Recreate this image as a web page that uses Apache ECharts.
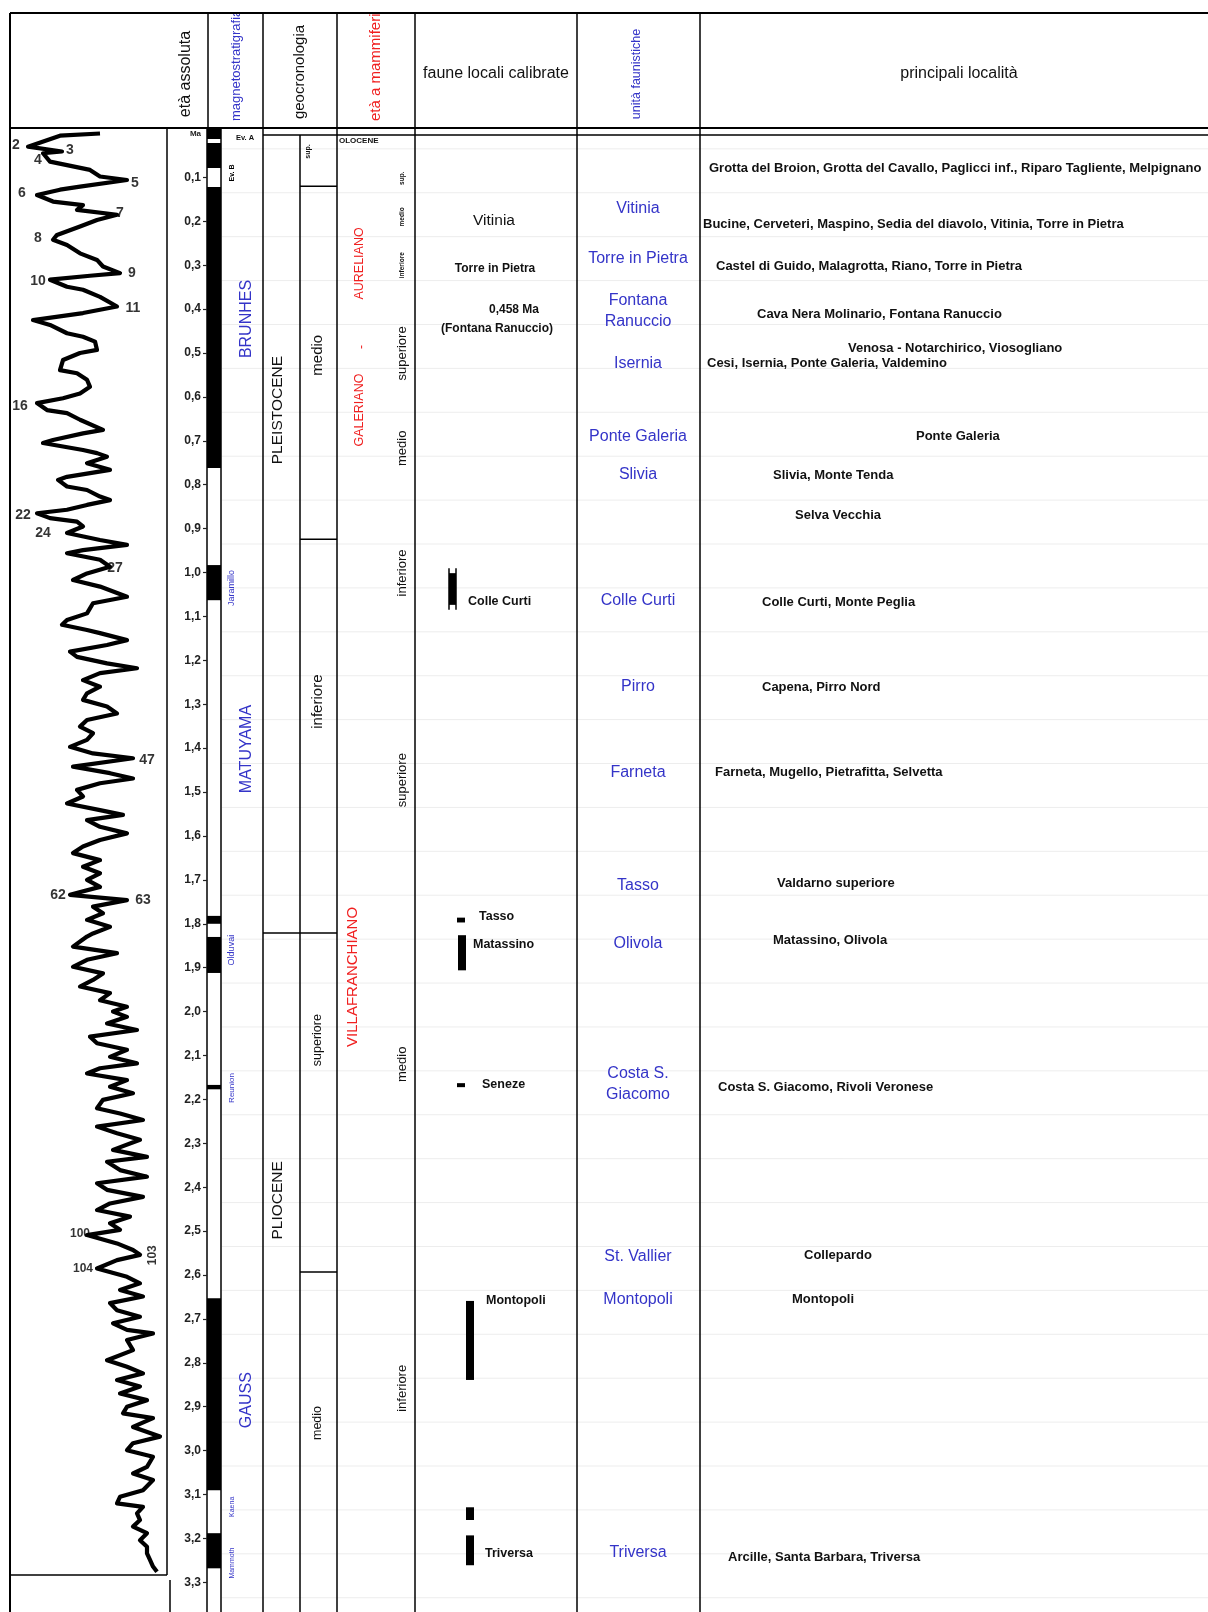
<!DOCTYPE html>
<html>
<head>
<meta charset="utf-8">
<title>Biocronologia</title>
<script src="https://cdn.jsdelivr.net/npm/echarts@6.0.0/dist/echarts.min.js"></script>
<style>
html,body{margin:0;padding:0;background:#fff;}
#chart{width:1208px;height:1612px;}
</style>
</head>
<body>
<div id="chart"></div>
<script>
// ================= DATA =================
const ageTicks = [0,0.1,0.2,0.3,0.4,0.5,0.6,0.7,0.8,0.9,1.0,1.1,1.2,1.3,1.4,1.5,1.6,1.7,1.8,1.9,2.0,2.1,2.2,2.3,2.4,2.5,2.6,2.7,2.8,2.9,3.0,3.1,3.2,3.3];
const ageTickLabels = ['Ma','0,1','0,2','0,3','0,4','0,5','0,6','0,7','0,8','0,9','1,0','1,1','1,2','1,3','1,4','1,5','1,6','1,7','1,8','1,9','2,0','2,1','2,2','2,3','2,4','2,5','2,6','2,7','2,8','2,9','3,0','3,1','3,2','3,3'];

// oxygen-isotope curve: [age Ma, relative value]
const isoCurve = [
[0.000,100],[0.005,60],[0.030,28],[0.041,62],[0.045,43],[0.064,50],[0.083,90],[0.098,100],[0.106,127],[0.121,80],
[0.128,60],[0.140,37],[0.155,53],[0.163,83],[0.174,77],[0.185,117],[0.197,97],[0.212,80],[0.231,57],[0.242,53],
[0.254,67],[0.273,80],[0.288,97],[0.303,103],[0.318,120],[0.324,90],[0.333,50],[0.349,67],[0.356,83],[0.372,100],
[0.394,117],[0.409,83],[0.425,33],[0.436,50],[0.455,67],[0.463,83],[0.474,95],[0.493,97],[0.500,80],[0.516,63],
[0.539,60],[0.546,77],[0.561,87],[0.577,90],[0.592,80],[0.603,63],[0.614,37],[0.630,47],[0.637,67],[0.652,80],
[0.675,103],[0.683,83],[0.698,53],[0.705,43],[0.713,63],[0.721,83],[0.728,97],[0.736,107],[0.751,87],[0.766,110],
[0.782,67],[0.789,58],[0.804,67],[0.812,87],[0.827,100],[0.835,110],[0.846,87],[0.857,67],[0.865,37],[0.876,50],
[0.884,77],[0.895,83],[0.910,67],[0.926,100],[0.937,127],[0.949,83],[0.956,67],[0.971,100],[0.987,110],[1.002,87],
[1.017,73],[1.032,100],[1.055,127],[1.070,93],[1.093,87],[1.108,67],[1.119,62],[1.131,87],[1.138,100],[1.154,127],
[1.165,107],[1.180,70],[1.192,77],[1.207,107],[1.218,137],[1.229,100],[1.245,83],[1.260,100],[1.275,87],[1.290,83],
[1.305,107],[1.321,117],[1.336,87],[1.351,80],[1.366,93],[1.381,87],[1.397,70],[1.412,93],[1.423,133],[1.442,73],
[1.457,110],[1.469,133],[1.480,100],[1.495,77],[1.510,83],[1.526,67],[1.541,100],[1.552,123],[1.564,87],[1.579,100],
[1.594,127],[1.609,100],[1.624,83],[1.639,73],[1.655,100],[1.670,83],[1.685,100],[1.700,87],[1.716,100],[1.734,70],
[1.746,127],[1.761,93],[1.776,103],[1.791,87],[1.807,110],[1.822,93],[1.829,87],[1.852,73],[1.867,117],[1.882,87],
[1.898,73],[1.913,103],[1.928,93],[1.943,80],[1.958,110],[1.974,100],[1.989,127],[2.000,113],[2.012,127],[2.027,107],
[2.042,137],[2.057,90],[2.072,97],[2.087,127],[2.103,110],[2.118,137],[2.129,100],[2.141,87],[2.156,127],[2.171,110],
[2.186,133],[2.201,103],[2.220,97],[2.232,120],[2.247,143],[2.262,97],[2.277,117],[2.292,140],[2.315,113],[2.331,147],
[2.342,107],[2.361,120],[2.376,147],[2.391,97],[2.406,107],[2.422,143],[2.437,110],[2.452,97],[2.467,130],[2.482,110],
[2.497,120],[2.509,87],[2.528,117],[2.543,133],[2.554,140],[2.566,117],[2.585,97],[2.604,127],[2.619,140],[2.634,120],
[2.649,143],[2.664,110],[2.680,117],[2.695,140],[2.710,113],[2.725,127],[2.733,153],[2.748,127],[2.771,133],[2.794,107],
[2.809,127],[2.824,143],[2.839,117],[2.854,140],[2.870,120],[2.885,147],[2.900,127],[2.915,123],[2.926,153],[2.946,133],
[2.968,160],[2.983,133],[2.999,127],[3.014,153],[3.037,147],[3.052,133],[3.067,153],[3.090,143],[3.105,120],[3.120,117],
[3.128,143],[3.143,137],[3.158,140],[3.173,133],[3.188,147],[3.204,140],[3.219,147],[3.234,147],[3.249,150],[3.264,153],
[3.276,157]
];
// marine isotope stage numbers
const stageNames = ['2','3','4','5','6','7','8','9','10','11','16','22','24','27','47','62','63','100','104','103'];
const stageAge   = [0.026,0.038,0.060,0.112,0.136,0.181,0.238,0.318,0.337,0.398,0.622,0.869,0.910,0.990,1.427,1.735,1.746,2.505,2.585,2.555];
const stageVal   = [16,70,38,135,22,120,38,132,38,133,20,23,43,115,147,58,143,80,83,153];

// magnetic polarity (1 = normal / black)
const polTop    = [-0.0125,0.0125,0.0216,0.0786,0.122,0.762,0.983,1.063,1.782,1.800,1.830,1.912,2.167,2.177,2.653,3.090,3.188,3.268];
const polBase   = [0.0125,0.0216,0.0786,0.122,0.762,0.983,1.063,1.782,1.800,1.830,1.912,2.167,2.177,2.653,3.090,3.188,3.268,3.3675];
const polNormal = [1,0,1,0,1,0,1,0,1,0,1,0,1,0,1,0,1,0];
const chronNames = ['BRUNHES','MATUYAMA','GAUSS'];
const chronAt    = [0.4225,1.402,2.885];
const subchronNames = ['Ev. B','Jaramillo','Olduvai','Reunion','Kaena','Mammoth'];
const subchronAt    = [0.090,1.035,1.860,2.174,3.128,3.256];

// geochronology
const epochNames   = ['PLEISTOCENE','PLIOCENE'];
const epochLabelAt = [0.630,2.430];
const epochBounds  = [1.821];
const subEpochNames   = ['sup.','medio','inferiore','superiore','medio'];
const subEpochLabelAt = [0.041,0.505,1.294,2.065,2.937];
const subEpochBounds  = [0.120,0.924,1.821,2.593];

// mammal ages
const mammalAgeNames = ['AURELIANO','-','GALERIANO','VILLAFRANCHIANO'];
const mammalAgeAt    = [0.296,0.486,0.630,1.921];
const mammalSubNames = ['sup.','medio','inferiore','superiore','medio','inferiore','superiore','medio','inferiore'];
const mammalSubAt    = [0.102,0.190,0.300,0.501,0.717,1.001,1.473,2.120,2.858];

// calibrated local faunas
const faunaNoteNames = ['Vitinia','Torre in Pietra','0,458 Ma','(Fontana Ranuccio)'];
const faunaNoteAt    = [0.199,0.309,0.402,0.445];
const faunaNames   = ['Colle Curti','Tasso','Matassino','Seneze','Montopoli','','Triversa'];
const faunaTop     = [0.990,1.786,1.826,2.163,2.659,3.129,3.193];
const faunaBase    = [1.085,1.797,1.906,2.172,2.839,3.158,3.261];
const faunaLabelAt = [1.065,1.784,1.848,2.167,2.657,3.143,3.234];

// faunal units
const unitNames = ['Vitinia','Torre in Pietra','Fontana\nRanuccio','Isernia','Ponte Galeria','Slivia','Colle Curti','Pirro','Farneta','Tasso','Olivola','Costa S.\nGiacomo','St. Vallier','Montopoli','Triversa'];
const unitAt    = [0.172,0.284,0.405,0.523,0.691,0.776,1.065,1.259,1.455,1.714,1.844,2.164,2.557,2.655,3.233];

// main localities
const localityNames = [
 'Grotta del Broion, Grotta del Cavallo, Paglicci inf., Riparo Tagliente, Melpignano',
 'Bucine, Cerveteri, Maspino, Sedia del diavolo, Vitinia, Torre in Pietra',
 'Castel di Guido, Malagrotta, Riano, Torre in Pietra',
 'Cava Nera Molinario, Fontana Ranuccio',
 'Venosa - Notarchirico, Viosogliano',
 'Cesi, Isernia, Ponte Galeria, Valdemino',
 'Ponte Galeria',
 'Slivia, Monte Tenda',
 'Selva Vecchia',
 'Colle Curti, Monte Peglia',
 'Capena, Pirro Nord',
 'Farneta, Mugello, Pietrafitta, Selvetta',
 'Valdarno superiore',
 'Matassino, Olivola',
 'Costa S. Giacomo, Rivoli Veronese',
 'Collepardo',
 'Montopoli',
 'Arcille, Santa Barbara, Triversa'
];
const localityAt = [0.079,0.206,0.302,0.411,0.489,0.523,0.691,0.778,0.869,1.067,1.261,1.455,1.709,1.837,2.172,2.555,2.655,3.243];

// ================= LAYOUT / STYLE =================
const FONT = "'Liberation Sans', Arial, Helvetica, sans-serif";
const NARROW = "'Liberation Sans Narrow', 'Liberation Sans', Arial, sans-serif";
const BLUE = '#3434c8', RED = '#f02020', INK = '#111';
const Y_MIN = -0.0125, Y_MAX = 3.3675, TOP = 128, HEIGHT = 1484;
const faunaBarX   = [453,461,462,461,470,470,470];
const faunaLabelX = [468,479,473,482,486,486,485];
const faunaNoteX  = [494,495,514,497];
const localityX   = [709,703,716,757,848,707,916,773,795,762,762,715,777,773,718,804,792,728];
const faintAges = ageTicks.map(t => t + 0.035);

function hiddenY(g){ return {gridIndex:g, type:'value', inverse:true, min:Y_MIN, max:Y_MAX, show:false}; }

function textSeries(labels, ages, xs, st){
  return {
    type:'custom', xAxisIndex:2, yAxisIndex:2, silent:true, z:5, clip:false,
    data: ages.map((a,i)=>[Array.isArray(xs)?xs[i]:xs, a]),
    renderItem(params, api){
      const i = params.dataIndex;
      const s = Array.isArray(st) ? st[i] : st;
      const p = api.coord([api.value(0), api.value(1)]);
      return {type:'text', x:p[0], y:p[1], rotation: s.rot ? Math.PI/2 : 0,
        style:{text:labels[i], fill:s.color||INK, fontSize:s.size, fontWeight:s.weight||'normal',
          fontFamily:s.family||FONT, align:s.align||'center', verticalAlign:'middle', lineHeight:s.lh||Math.round(s.size*1.2)}};
    }
  };
}
function hLineSeries(ages, x0, x1, color, width, z){
  return {
    type:'custom', xAxisIndex:2, yAxisIndex:2, silent:true, z:z, clip:false,
    data: ages.map(a=>[x0,a]),
    renderItem(params, api){
      const a = api.coord([x0, api.value(1)]), b = api.coord([x1, api.value(1)]);
      return {type:'line', shape:{x1:a[0],y1:a[1],x2:b[0],y2:b[1]}, style:{stroke:color, lineWidth:width}};
    }
  };
}

const series = [];
// faint ruling
series.push(hLineSeries(faintAges, 222, 1208, '#ededed', 1, 1));
// isotope curve
series.push({type:'line', xAxisIndex:0, yAxisIndex:0, data: isoCurve.map(d=>[d[1], d[0]]),
  showSymbol:false, symbol:'none', silent:true, lineStyle:{color:'#000', width:4.2, join:'round'}, z:3});
series.push({type:'scatter', xAxisIndex:0, yAxisIndex:0, symbolSize:0, silent:true, z:4,
  data: stageNames.map((n,i)=>({name:n, value:[stageVal[i], stageAge[i]],
    label:{rotate: n==='103' ? 90 : 0, fontSize: n.length>2 ? 12 : 14}})),
  label:{show:true, position:'inside', formatter:'{b}', fontWeight:'bold', color:'#000', fontFamily:NARROW}});
// polarity bar
series.push({type:'custom', xAxisIndex:1, yAxisIndex:1, silent:true, z:3,
  data: polTop.map((t,i)=>[0,t,polBase[i],polNormal[i]]),
  renderItem(params, api){
    if (!api.value(3)) return {type:'group', children:[]};
    const a = api.coord([0, api.value(1)]), b = api.coord([1, api.value(2)]);
    return {type:'rect', shape:{x:a[0], y:a[1], width:b[0]-a[0], height:b[1]-a[1]}, style:{fill:'#000'}};
  }});
// magnetostratigraphy labels
series.push(textSeries(chronNames, chronAt, 247, {size:16, color:BLUE, rot:true}));
series.push(textSeries(subchronNames, subchronAt, 232,
  subchronNames.map((n,i)=>({size:[7,9,9,8,7,7][i], color: i===0 ? '#000' : BLUE, weight: i===0?'bold':'normal', rot:true, family:NARROW}))));
// geochronology
series.push(hLineSeries(epochBounds, 263, 300, '#000', 1.5, 4));
series.push(hLineSeries(subEpochBounds, 300, 337, '#000', 1.5, 4));
series.push(textSeries(epochNames, epochLabelAt, 278, {size:15.5, rot:true}));
series.push(textSeries(subEpochNames, subEpochLabelAt, [308,318,318,318,318],
  subEpochNames.map((n,i)=>({size:[7,15,15,12.5,12.5][i], weight: i===0?'bold':'normal', rot:true}))));
// mammal ages
series.push(textSeries(mammalAgeNames, mammalAgeAt, [360,362,360,353],
  mammalAgeNames.map((n,i)=>({size: i===3 ? 15 : 12.5, color:RED, rot:true}))));
series.push(textSeries(mammalSubNames, mammalSubAt, 402,
  mammalSubNames.map((n,i)=>({size: i<3 ? 6.5 : 13, weight: i<3?'bold':'normal', rot:true}))));
// calibrated local faunas
series.push(textSeries(faunaNoteNames, faunaNoteAt, faunaNoteX,
  faunaNoteNames.map((n,i)=>({size: i===0 ? 15.5 : 12, weight: i===0?'normal':'bold', family: i===0?FONT:NARROW}))));
series.push({type:'custom', xAxisIndex:2, yAxisIndex:2, silent:true, z:4, clip:false,
  data: faunaTop.map((t,i)=>[faunaBarX[i], t, faunaBase[i]]),
  renderItem(params, api){
    const i = params.dataIndex;
    const a = api.coord([api.value(0), api.value(1)]), b = api.coord([api.value(0), api.value(2)]);
    const h = Math.max(b[1]-a[1], 4), w = 8;
    if (i === 0) {
      return {type:'group', children:[
        {type:'rect', shape:{x:a[0]-4, y:a[1]+5, width:7, height:h-10}, style:{fill:'#000'}},
        {type:'line', shape:{x1:a[0]-4, y1:a[1], x2:a[0]-4, y2:a[1]+h}, style:{stroke:'#000', lineWidth:1.5}},
        {type:'line', shape:{x1:a[0]+3, y1:a[1], x2:a[0]+3, y2:a[1]+h}, style:{stroke:'#000', lineWidth:1.5}}
      ]};
    }
    return {type:'rect', shape:{x:a[0]-w/2, y:a[1], width:w, height:h}, style:{fill:'#000'}};
  }});
series.push(textSeries(faunaNames, faunaLabelAt, faunaLabelX, {size:12.5, weight:'bold', align:'left', family:NARROW}));
// faunal units
series.push(textSeries(unitNames, unitAt, 638, {size:16, color:BLUE, lh:21}));
// localities
series.push(textSeries(localityNames, localityAt, localityX, {size:13, weight:'bold', align:'left', family:NARROW}));

// ================= FRAME (graphic) =================
function L(x1,y1,x2,y2,w){ return {type:'line', z:50, silent:true, shape:{x1,y1,x2,y2}, style:{stroke:'#000', lineWidth:w||1.5}}; }
function T(text,x,y,size,opt){ opt = opt||{};
  return {type:'text', z:40, silent:true, x, y, rotation: opt.rot?Math.PI/2:0,
    style:{text, fontSize:size, fontFamily:opt.family||FONT, fontWeight:opt.weight||'normal', fill:opt.color||INK,
      align:opt.align||'center', verticalAlign:'middle'}}; }
const graphic = [
  T('età assoluta', 186, 74, 16, {rot:true}),
  T('magnetostratigrafia', 236, 121, 13, {rot:true, color:BLUE, align:'left'}),
  T('geocronologia', 300, 72, 15, {rot:true}),
  T('età a mammiferi', 376, 121, 15, {rot:true, color:RED, align:'left'}),
  T('faune locali calibrate', 496, 74, 16),
  T('unità faunistiche', 637, 74, 12.5, {rot:true, color:BLUE}),
  T('principali località', 959, 74, 16),
  T('Ev. A', 245, 138, 7.5, {weight:'bold', family:NARROW}),
  T('OLOCENE', 339, 141, 8, {weight:'bold', align:'left', family:NARROW}),
  {type:'rect', z:45, silent:true, shape:{x:0,y:0,width:1208,height:12}, style:{fill:'#fff'}},
  L(10,13,1208,13,2), L(10,128,1208,128,2), L(263,135,1208,135,1.5),
  L(10,13,10,1612,2), L(208,13,208,128,1.5),
  L(263,13,263,1612,1.5), L(300,135,300,1612,1.5), L(337,13,337,1612,1.5),
  L(415,13,415,1612,1.5), L(577,13,577,1612,1.5), L(700,13,700,1612,1.5),
  L(167,128,167,1575,1.5), L(10,1575,167,1575,1.5), L(170,1580,170,1612,1.5)
];

const chart = echarts.init(document.getElementById('chart'), null, {renderer:'canvas'});
chart.setOption({
  animation:false,
  backgroundColor:'#fff',
  grid:[
    {left:10, top:TOP, width:157, height:HEIGHT},
    {left:207, top:TOP, width:14, height:HEIGHT},
    {left:0, top:TOP, width:1208, height:HEIGHT}
  ],
  xAxis:[
    {gridIndex:0, type:'value', min:10, max:167, show:false},
    {gridIndex:1, type:'value', min:0, max:1, show:false},
    {gridIndex:2, type:'value', min:0, max:1208, show:false}
  ],
  yAxis:[
    hiddenY(0),
    {gridIndex:1, type:'value', inverse:true, min:Y_MIN, max:Y_MAX, position:'left',
      axisLine:{show:true, lineStyle:{color:'#000', width:1.5}},
      axisTick:{show:true, length:4, customValues: ageTicks.slice(1), lineStyle:{color:'#222', width:1.2}},
      axisLabel:{show:true, customValues: ageTicks, margin:6, fontSize:12, fontWeight:'bold', color:'#222', fontFamily:NARROW,
        formatter: v => { const k = Math.round(v*10); return k === 0 ? '{ma|Ma}' : ageTickLabels[k]; },
        rich:{ma:{fontSize:8, fontWeight:'bold', color:'#222', fontFamily:NARROW}}},
      splitLine:{show:false}},
    hiddenY(2),
    {gridIndex:1, type:'value', inverse:true, min:Y_MIN, max:Y_MAX, position:'right',
      axisLine:{show:true, lineStyle:{color:'#000', width:1.5}}, axisTick:{show:false}, axisLabel:{show:false}, splitLine:{show:false}}
  ],
  series: series,
  graphic: graphic
});
</script>
</body>
</html>
